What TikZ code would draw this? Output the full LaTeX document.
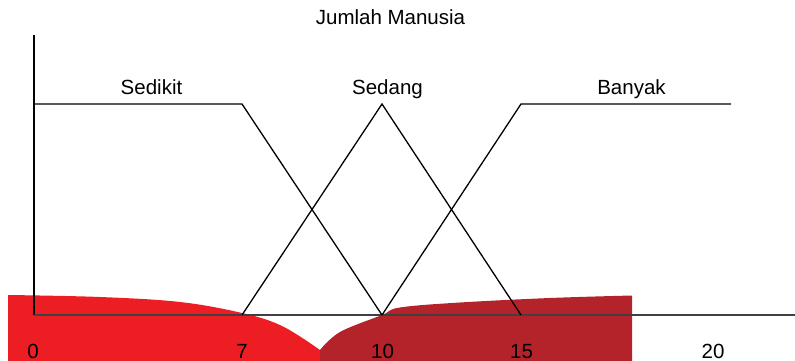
\documentclass[tikz,border=0pt]{standalone}
\usepackage{fontspec}
\setmainfont{Liberation Sans}
\definecolor{bright}{RGB}{237,29,36}
\definecolor{darkred}{RGB}{180,34,42}
\tikzset{
  lbl/.style={anchor=base,inner sep=0pt,font=\fontsize{20.5}{24}\selectfont},
  mf/.style={line width=1.3pt,black,line join=miter},
  axis/.style={line width=1.3pt,black}
}
\begin{document}
\begin{tikzpicture}[x=1pt,y=-1pt]
\useasboundingbox (0,0) rectangle (795,361);
% red areas
\fill[bright] plot[smooth,tension=0.6] coordinates {(8,295) (100,297) (180,302) (242,313) (282,326) (320,350)} -- (320,361) -- (8,361) -- cycle;
\fill[darkred] plot[smooth,tension=0.6] coordinates {(320,350) (340,332) (382,315) (400,307.5) (460,302.5) (550,298) (632,295.5)} -- (632,361) -- (320,361) -- cycle;
% key points
\coordinate (o) at (34,315);
\coordinate (ytop) at (34,35);
\coordinate (xend) at (795,315);
\coordinate (s0) at (34,104);
\coordinate (s1) at (242,104);
\coordinate (p7) at (242,315);
\coordinate (p10) at (382,315);
\coordinate (p15) at (521,315);
\coordinate (m1) at (382,104);
\coordinate (b1) at (521,104);
\coordinate (b2) at (731,104);
% axes
\draw[axis] (ytop) -- (o);
\draw[axis,black!75] (o) -- (xend);
% membership functions
\draw[mf] (s0) -- (s1) -- (p10);
\draw[mf] (p7) -- (m1) -- (p15);
\draw[mf] (p10) -- (b1) -- (b2);
% labels
\node[lbl] (title) at (390.5,25) {Jumlah Manusia};
\node[lbl] (lsedikit) at (151.5,95) {Sedikit};
\node[lbl] (lsedang) at (387.5,95) {Sedang};
\node[lbl] (lbanyak) at (631.5,95) {Banyak};
\node[lbl] (t0) at (33,358) {0};
\node[lbl] (t7) at (242,358) {7};
\node[lbl] (t10) at (382.5,358) {10};
\node[lbl] (t15) at (521.5,358) {15};
\node[lbl] (t20) at (713,358) {20};
\end{tikzpicture}
\end{document}
